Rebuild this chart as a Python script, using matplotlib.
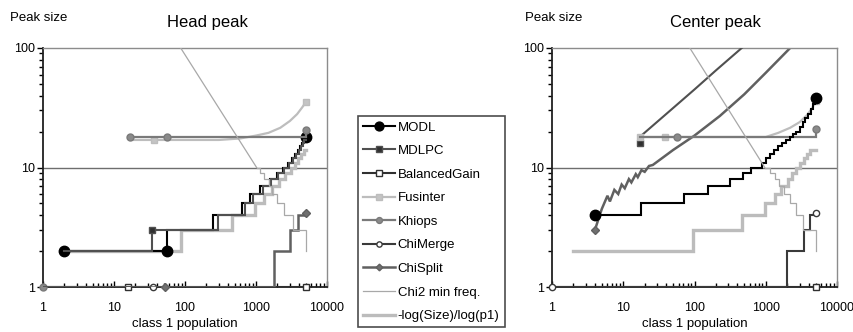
import matplotlib
matplotlib.use("Agg")
import matplotlib.pyplot as plt
from matplotlib.lines import Line2D
from matplotlib.ticker import FixedLocator, LogLocator, NullFormatter

plt.rcParams['font.family'] = ['Liberation Sans', 'DejaVu Sans']

names = ['MODL', 'MDLPC', 'BalancedGain', 'Fusinter', 'Khiops',
         'ChiMerge', 'ChiSplit', 'Chi2 min freq.', '-log(Size)/log(p1)']
x_ticks = [1, 10, 100, 1000, 10000]
y_ticks = [1, 10, 100]

# ---- Head peak ----
head_modl_x = [2, 55, 250, 630, 820, 1140, 1570, 1950, 2400, 2800, 3250, 3600, 3900, 4200, 4450, 4700, 4900, 5000]
head_modl_y = [2, 3, 4, 5, 6, 7, 8, 9, 10, 11, 12, 13, 14, 15, 16, 17, 18, 18]
head_modl_mx, head_modl_my = [2, 55, 5000], [2, 2, 18]

head_mdlpc_x = [2, 34, 290, 700, 900, 1250, 1650, 2050, 2500, 2900, 3350, 3700, 4000, 4300, 4550, 4800, 5000]
head_mdlpc_y = [2, 3, 4, 5, 6, 7, 8, 9, 10, 11, 12, 13, 14, 15, 16, 17, 17]
head_mdlpc_mx, head_mdlpc_my = [34], [3]

head_balanced_x, head_balanced_y = [1, 5000], [1, 1]
head_balanced_mx, head_balanced_my = [16, 5000], [1, 1]

head_fusinter_x = [17, 300, 600, 1000, 1500, 2200, 3000, 3800, 4500, 5000]
head_fusinter_y = [17, 17, 17.5, 18.5, 19.5, 21.5, 24.5, 28, 32, 35]
head_fusinter_mx, head_fusinter_my = [37, 5000], [17, 35]

head_khiops_x, head_khiops_y = [17, 5000, 5000], [18, 18, 20.5]
head_khiops_mx, head_khiops_my = [1, 17, 55, 5000], [1, 18, 18, 20.5]

head_chimerge_x, head_chimerge_y = [1, 36], [1, 1]
head_chimerge_mx, head_chimerge_my = [36], [1]

head_chisplit_x = [1, 1800, 3050, 3950, 5000]
head_chisplit_y = [1, 2, 3, 4, 4.2]
head_chisplit_mx, head_chisplit_my = [52, 5000], [1, 4.2]

head_chi2_x = [87, 1020, 1150, 1300, 1500, 1700, 1950, 2500, 3300, 5000, 5000]
head_chi2_y = [100, 10, 9, 8, 7, 6, 5, 4, 3, 3, 2]

head_log_x = [2, 87, 454, 960, 1300, 1700, 2100, 2600, 3100, 3500, 3900, 4300, 4700, 5000]
head_log_y = [2, 3, 4, 5, 6, 7, 8, 9, 10, 11, 12, 13, 14, 14]

# ---- Center peak ----
center_modl_x = [4, 18, 72, 154, 313, 480, 630, 875, 1000, 1150, 1300, 1500, 1700,
                 1950, 2200, 2450, 2700, 3000, 3300, 3600, 3900, 4250, 4600, 4900, 5000]
center_modl_y = [4, 5, 6, 7, 8, 9, 10, 11, 12, 13, 14, 15, 16,
                 17, 18, 19, 20, 22, 24, 26, 28, 31, 34, 36, 38]
center_modl_mx, center_modl_my = [4, 5000], [4, 38]

center_mdlpc_x = [17, 17, 40, 100, 200, 460, 700]
center_mdlpc_y = [16, 18, 28, 45, 65, 100, 125]
center_mdlpc_mx, center_mdlpc_my = [17], [16]

center_balanced_x, center_balanced_y = [1, 5000], [1, 1]
center_balanced_mx, center_balanced_my = [5000], [1]

center_fusinter_x = [17, 1000, 1500, 2200, 3000, 3800, 4500, 5000]
center_fusinter_y = [18, 18, 19.5, 21.5, 24, 27.5, 31.5, 36]
center_fusinter_mx, center_fusinter_my = [17, 38, 5000], [18, 18, 36]

center_khiops_x, center_khiops_y = [17, 5000, 5000], [18, 18, 21]
center_khiops_mx, center_khiops_my = [56, 5000], [18, 21]

center_chimerge_x = [1, 1970, 3400, 4150, 5000]
center_chimerge_y = [1, 2, 3, 4, 4.2]
center_chimerge_mx, center_chimerge_my = [1, 5000], [1, 4.2]

center_chisplit_x = [4, 5, 6, 6.5, 7.5, 8.5, 9.5, 10.5, 12, 13, 15, 16, 18, 20, 23, 26,
                     50, 100, 227, 500, 1000, 2200, 2600]
center_chisplit_y = [3, 4.5, 5.8, 5.2, 6.5, 6.0, 7.2, 6.7, 8.0, 7.5, 8.8, 8.3, 9.5, 9.2, 10.3, 10.5,
                     14, 18.5, 27, 41, 62, 100, 110]
center_chisplit_mx, center_chisplit_my = [4], [3]

center_chi2_x = [86, 970, 1150, 1350, 1550, 1800, 2200, 2700, 3300, 5000, 5000]
center_chi2_y = [100, 10, 9, 8, 7, 6, 5, 4, 3, 3, 2]

center_log_x = [2, 95, 457, 975, 1350, 1660, 2040, 2300, 2650, 3000, 3400, 3800, 4200, 4600, 5000]
center_log_y = [2, 3, 4, 5, 6, 7, 8, 9, 10, 11, 12, 13, 14, 14, 14]

# styles per series: line colour, width, marker, marker size, marker face
styles = {
    'MODL': dict(color='#000000', lw=1.5, marker='o', ms=7.5, mfc='#000000'),
    'MDLPC': dict(color='#505050', lw=1.5, marker='s', ms=4.5, mfc='#303030'),
    'BalancedGain': dict(color='#303030', lw=1.5, marker='s', ms=4.5, mfc='white'),
    'Fusinter': dict(color='#bdbdbd', lw=1.6, marker='s', ms=5, mfc='#c4c4c4'),
    'Khiops': dict(color='#7a7a7a', lw=1.6, marker='o', ms=5, mfc='#8a8a8a'),
    'ChiMerge': dict(color='#3a3a3a', lw=1.5, marker='o', ms=4.5, mfc='white'),
    'ChiSplit': dict(color='#606060', lw=1.8, marker='D', ms=4, mfc='#707070'),
    'Chi2 min freq.': dict(color='#a8a8a8', lw=0.9, marker=None, ms=0, mfc='none'),
    '-log(Size)/log(p1)': dict(color='#bcbcbc', lw=2.4, marker=None, ms=0, mfc='none'),
}


def draw(ax, name, x, y, mx=None, my=None, kind='steps', z=2):
    st = styles[name]
    ds = 'steps-post' if kind == 'steps' else 'default'
    ax.plot(x, y, color=st['color'], lw=st['lw'], drawstyle=ds, zorder=z,
            solid_joinstyle='miter')
    if mx:
        ax.plot(mx, my, ls='none', marker=st['marker'], ms=st['ms'],
                mfc=st['mfc'], mec=st['color'], mew=1.0, zorder=z + 0.5,
                clip_on=False)


def setup(ax):
    ax.set_xscale('log')
    ax.set_yscale('log')
    ax.set_xlim(1, 10000)
    ax.set_ylim(1, 100)
    ax.xaxis.set_major_locator(FixedLocator(x_ticks))
    ax.set_xticklabels([str(v) for v in x_ticks])
    ax.yaxis.set_major_locator(FixedLocator(y_ticks))
    ax.set_yticklabels([str(v) for v in y_ticks])
    ax.xaxis.set_minor_locator(LogLocator(base=10, subs=range(2, 10)))
    ax.yaxis.set_minor_locator(LogLocator(base=10, subs=range(2, 10)))
    ax.xaxis.set_minor_formatter(NullFormatter())
    ax.yaxis.set_minor_formatter(NullFormatter())
    ax.tick_params(axis='x', which='major', direction='in', length=4, width=1,
                   labelsize=9, pad=11)
    ax.tick_params(axis='x', which='minor', direction='in', length=3, width=1)
    ax.tick_params(axis='y', which='major', direction='out', length=4, width=1,
                   labelsize=9, pad=2)
    ax.tick_params(axis='y', which='minor', direction='out', length=3, width=1)
    for s in ('left', 'bottom'):
        ax.spines[s].set_color('#202020')
        ax.spines[s].set_linewidth(1.3)
    for s in ('top', 'right'):
        ax.spines[s].set_color('#8c8c8c')
        ax.spines[s].set_linewidth(1.0)
    ax.axhline(10, color='#6e6e6e', lw=1.0, zorder=1)
    ax.set_xlabel('class 1 population', fontsize=9.5, labelpad=3)


fig = plt.figure(figsize=(8.54, 3.32), dpi=100)
ax1 = fig.add_axes([43 / 854, 1 - 287 / 332, 284 / 854, 239 / 332])
ax2 = fig.add_axes([552 / 854, 1 - 287 / 332, 285 / 854, 239 / 332])
for ax in (ax1, ax2):
    setup(ax)

draw(ax1, 'MODL', head_modl_x, head_modl_y, head_modl_mx, head_modl_my, z=2)
draw(ax1, 'MDLPC', head_mdlpc_x, head_mdlpc_y, head_mdlpc_mx, head_mdlpc_my, z=3)
draw(ax1, 'BalancedGain', head_balanced_x, head_balanced_y, head_balanced_mx, head_balanced_my, z=4)
draw(ax1, 'Fusinter', head_fusinter_x, head_fusinter_y, head_fusinter_mx, head_fusinter_my, kind='line', z=5)
draw(ax1, 'Khiops', head_khiops_x, head_khiops_y, head_khiops_mx, head_khiops_my, kind='line', z=6)
draw(ax1, 'ChiMerge', head_chimerge_x, head_chimerge_y, head_chimerge_mx, head_chimerge_my, z=7)
draw(ax1, 'ChiSplit', head_chisplit_x, head_chisplit_y, head_chisplit_mx, head_chisplit_my, z=8)
draw(ax1, 'Chi2 min freq.', head_chi2_x[:2], head_chi2_y[:2], kind='line', z=9)
draw(ax1, 'Chi2 min freq.', head_chi2_x[1:], head_chi2_y[1:], z=9)
draw(ax1, '-log(Size)/log(p1)', head_log_x, head_log_y, z=1.5)

draw(ax2, 'MODL', center_modl_x, center_modl_y, center_modl_mx, center_modl_my, z=7)
draw(ax2, 'MDLPC', center_mdlpc_x, center_mdlpc_y, center_mdlpc_mx, center_mdlpc_my, kind='line', z=3)
draw(ax2, 'BalancedGain', center_balanced_x, center_balanced_y, center_balanced_mx, center_balanced_my, z=4)
draw(ax2, 'Fusinter', center_fusinter_x, center_fusinter_y, center_fusinter_mx, center_fusinter_my, kind='line', z=5)
draw(ax2, 'Khiops', center_khiops_x, center_khiops_y, center_khiops_mx, center_khiops_my, kind='line', z=6)
draw(ax2, 'ChiMerge', center_chimerge_x, center_chimerge_y, center_chimerge_mx, center_chimerge_my, z=8)
draw(ax2, 'ChiSplit', center_chisplit_x, center_chisplit_y, center_chisplit_mx, center_chisplit_my, kind='line', z=2)
draw(ax2, 'Chi2 min freq.', center_chi2_x[:2], center_chi2_y[:2], kind='line', z=9)
draw(ax2, 'Chi2 min freq.', center_chi2_x[1:], center_chi2_y[1:], z=9)
draw(ax2, '-log(Size)/log(p1)', center_log_x, center_log_y, z=1.5)

# titles and axis captions
fig.text(10 / 854, 1 - 18 / 332, 'Peak size', fontsize=9.5, ha='left', va='center')
fig.text(207 / 854, 1 - 23 / 332, 'Head peak', fontsize=12, ha='center', va='center')
fig.text(525 / 854, 1 - 18 / 332, 'Peak size', fontsize=9.5, ha='left', va='center')
fig.text(715 / 854, 1 - 23 / 332, 'Center peak', fontsize=12, ha='center', va='center')

handles = []
for n in names:
    st = styles[n]
    handles.append(Line2D([], [], color=st['color'], lw=st['lw'], marker=st['marker'],
                          ms=st['ms'] * 0.85, mfc=st['mfc'], mec=st['color']))
leg = fig.legend(handles, names, loc='upper left',
                 bbox_to_anchor=(358 / 854, 1 - 116 / 332), frameon=True,
                 fancybox=False, edgecolor='#202020', fontsize=9.5,
                 handlelength=2.4, handletextpad=0.2, labelspacing=0.86,
                 borderpad=0.4, borderaxespad=0)
leg.get_frame().set_linewidth(1.2)

fig.savefig('out.png', dpi=100)
